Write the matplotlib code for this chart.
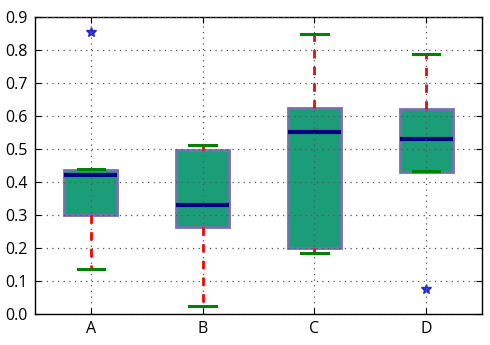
import matplotlib
matplotlib.use("Agg")
import matplotlib.pyplot as plt

plt.rcParams['font.family'] = ['Open Sans', 'DejaVu Sans']

labels = ["A", "B", "C", "D"]
whislo = [0.135, 0.024, 0.184, 0.434]
q1 = [0.300, 0.262, 0.201, 0.431]
med = [0.421, 0.330, 0.551, 0.530]
q3 = [0.436, 0.497, 0.623, 0.620]
whishi = [0.438, 0.512, 0.847, 0.787]
fliers = [[0.855], [], [], [0.077]]

stats = []
for i in range(len(labels)):
    stats.append(dict(label=labels[i], whislo=whislo[i], q1=q1[i], med=med[i],
                      q3=q3[i], whishi=whishi[i], fliers=fliers[i]))

fig = plt.figure(figsize=(4.9, 3.45), dpi=100)
ax = fig.add_axes([0.071, 0.090, 0.913, 0.861])

bp = ax.bxp(stats, patch_artist=True, widths=0.47)
for b in bp['boxes']:
    b.set(facecolor='#1b9e77', edgecolor='#7570b3', linewidth=2)
for w in bp['whiskers']:
    w.set(color='red', linestyle='--', linewidth=2, dashes=(3, 3))
for c in bp['caps']:
    c.set(color='green', linewidth=2.2)
for m in bp['medians']:
    m.set(color='#000080', linewidth=3)
for f in bp['fliers']:
    f.set(marker='*', markerfacecolor='#1515d0', markeredgecolor='#1515d0',
          markersize=7, alpha=0.85)

ax.set_xlim(0.5, 4.5)
ax.set_ylim(0.0, 0.9)
ax.set_yticks([0.0, 0.1, 0.2, 0.3, 0.4, 0.5, 0.6, 0.7, 0.8, 0.9])
ax.set_axisbelow(False)
ax.grid(True, color='#555555', linestyle=(0, (1, 3.5)), linewidth=0.9)
ax.tick_params(direction='in', top=True, right=True, length=4, labelsize=11.5, pad=5)
for s in ax.spines.values():
    s.set_linewidth(1.0)

fig.savefig("out.png", dpi=100, facecolor='white')
